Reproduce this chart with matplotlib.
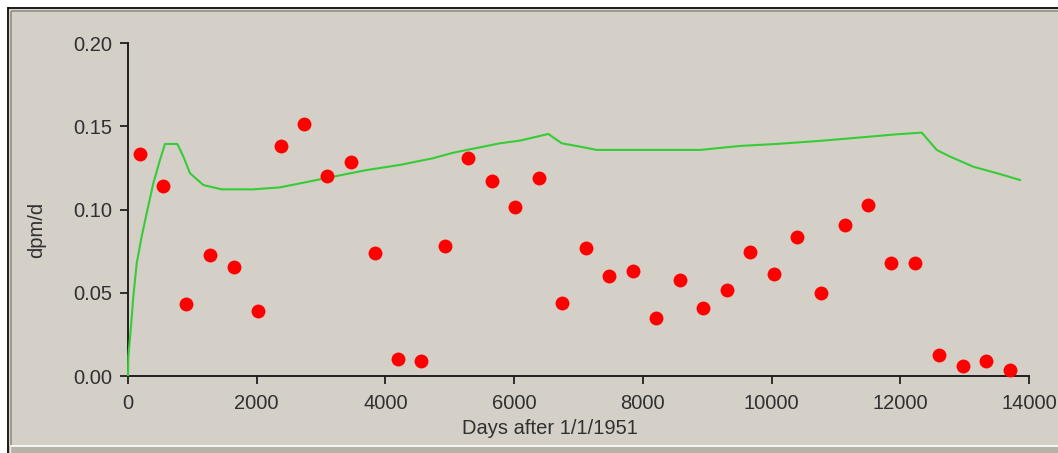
import matplotlib
matplotlib.use("Agg")
import matplotlib.pyplot as plt
from matplotlib.lines import Line2D
from matplotlib.patches import Rectangle

# ---- data ----
obs_days = [186, 544, 901, 1274, 1647, 2020, 2377, 2735, 3092, 3465, 3838, 4195,
            4553, 4925, 5283, 5656, 6013, 6386, 6743, 7116, 7474, 7847, 8204, 8577,
            8934, 9307, 9664, 10037, 10395, 10767, 11140, 11498, 11855, 12228,
            12601, 12974, 13331, 13704]
obs_values = [0.1335, 0.114, 0.0433, 0.0728, 0.0655, 0.039, 0.138, 0.1515, 0.120,
              0.1287, 0.074, 0.0102, 0.009, 0.078, 0.131, 0.117, 0.1016, 0.119,
              0.0439, 0.077, 0.060, 0.063, 0.0349, 0.058, 0.041, 0.0517, 0.0746,
              0.0613, 0.0836, 0.0499, 0.0908, 0.1028, 0.068, 0.068, 0.0126, 0.006,
              0.009, 0.0036]

model_days = [0, 5, 42, 83, 135, 212, 290, 393, 497, 575, 766, 859, 963, 1170,
              1456, 1947, 2362, 2673, 3185, 3709, 4227, 4739, 5050, 5780, 6091,
              6531, 6739, 7075, 7283, 8888, 9510, 10080, 10804, 11529, 11944,
              12333, 12566, 12773, 13135, 13549, 13860]
model_values = [0.0006, 0.0116, 0.0277, 0.0477, 0.0677, 0.0838, 0.0978, 0.1158,
                0.1299, 0.1395, 0.1395, 0.132, 0.1219, 0.1148, 0.1122, 0.1122,
                0.1134, 0.1158, 0.1198, 0.1238, 0.1269, 0.1309, 0.1342, 0.1399,
                0.1415, 0.1455, 0.1399, 0.1375, 0.1359, 0.1359, 0.1383, 0.1395,
                0.1415, 0.1439, 0.1453, 0.1463, 0.1359, 0.1319, 0.1258, 0.1214,
                0.1178]

x_ticks = [0, 2000, 4000, 6000, 8000, 10000, 12000, 14000]
y_ticks = [0.00, 0.05, 0.10, 0.15, 0.20]
x_label = "Days after 1/1/1951"
y_label = "dpm/d"

# ---- figure ----
W, H = 1058, 453
BG = "#d4d0c8"
plt.rcParams['font.family'] = ['Liberation Sans', 'DejaVu Sans']
fig = plt.figure(figsize=(W / 100, H / 100), dpi=100, facecolor="white")

def fx(px):
    return px / W

def fy(py):
    return 1 - py / H

# window panel
fig.patches.append(Rectangle((fx(7), fy(450)), fx(W) - fx(7), fy(7) - fy(450),
                             transform=fig.transFigure, facecolor=BG,
                             edgecolor="none", zorder=-3))
fig.patches.append(Rectangle((fx(7), fy(453)), 1 - fx(7), fy(446) - fy(453),
                             transform=fig.transFigure, facecolor="#b5b2a8",
                             edgecolor="none", zorder=-3))

def fline(x0, y0, x1, y1, color, lw):
    fig.lines.append(Line2D([fx(x0), fx(x1)], [fy(y0), fy(y1)],
                            transform=fig.transFigure, color=color,
                            linewidth=lw, solid_capstyle="butt", zorder=-2))

fline(7.5, 7.5, W, 7.5, "black", 1.2)
fline(7.5, 7, 7.5, H, "black", 1.2)
fline(9.5, 9.5, W, 9.5, "#ebe9e3", 1.0)
fline(9.5, 9.5, 9.5, H, "#ebe9e3", 1.0)
fline(11, 11, W, 11, "#8f8c82", 1.2)
fline(11, 11, 11, 445, "#8f8c82", 1.2)
fline(11, 445.5, W, 445.5, "#ffffff", 1.2)

ax = fig.add_axes([fx(128), fy(376), fx(1029) - fx(128), fy(43.3) - fy(376)])
ax.set_facecolor("none")
ax.plot(model_days, model_values, color="#36cc36", linewidth=1.5, zorder=3,
        clip_on=False)
ax.plot(obs_days, obs_values, linestyle="none", marker="o", markersize=10,
        color="#ff0000", markeredgewidth=0, zorder=4, clip_on=False)

ax.set_xlim(0, 14000)
ax.set_ylim(0, 0.20)
ax.set_xticks(x_ticks)
ax.set_xticklabels([str(t) for t in x_ticks])
ax.set_yticks(y_ticks)
ax.set_yticklabels([f"{t:.2f}" for t in y_ticks])
for s in ["top", "right"]:
    ax.spines[s].set_visible(False)
for s in ["left", "bottom"]:
    ax.spines[s].set_linewidth(1.4)
    ax.spines[s].set_color("#202020")
ax.tick_params(axis="both", direction="out", length=6, width=1.3,
               color="#202020", labelsize=14.5, labelcolor="#303030")
ax.tick_params(axis="x", pad=7)
ax.tick_params(axis="y", pad=5)

fig.text(fx(550), fy(428), x_label, ha="center", va="center",
         fontsize=14.5, color="#303030")
fig.text(fx(37), fy(230), y_label, ha="center", va="center", rotation=90,
         fontsize=14.5, color="#303030")

fig.savefig("out.png", dpi=100, facecolor="white")
